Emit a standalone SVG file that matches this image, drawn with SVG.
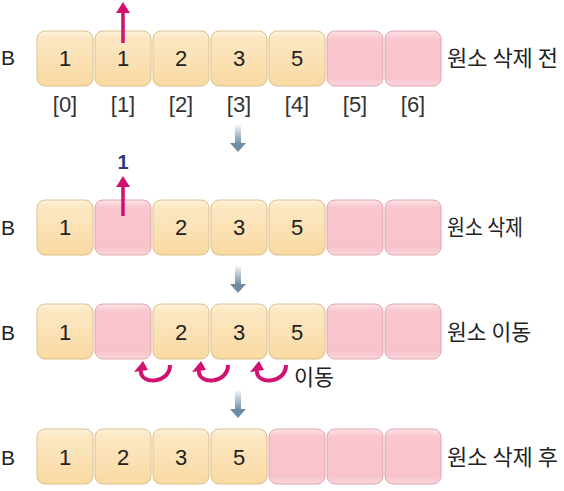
<svg xmlns="http://www.w3.org/2000/svg" width="564" height="491" viewBox="0 0 564 491">
<defs>
<linearGradient id="gy" x1="0" y1="0" x2="0" y2="1">
<stop offset="0" stop-color="#fef3dc"/>
<stop offset="0.12" stop-color="#fde8c4"/>
<stop offset="1" stop-color="#f8d9a2"/>
</linearGradient>
<linearGradient id="gp" x1="0" y1="0" x2="0" y2="1">
<stop offset="0" stop-color="#fde3e7"/>
<stop offset="0.14" stop-color="#f9c6ce"/>
<stop offset="0.85" stop-color="#f8c3cb"/>
<stop offset="1" stop-color="#fbd6dc"/>
</linearGradient>
<linearGradient id="ga" x1="0" y1="0" x2="0" y2="1">
<stop offset="0" stop-color="#f2f5f7"/>
<stop offset="1" stop-color="#6f8ca4"/>
</linearGradient>
<symbol id="down" overflow="visible">
<rect x="-3" y="0" width="6" height="19" fill="url(#ga)"/>
<polygon points="-8,18 8,18 0,27" fill="#6f8ca4"/>
</symbol>
</defs>
<style>
.y{fill:url(#gy);stroke:#dcc08c;stroke-width:1}
.p{fill:url(#gp);stroke:#e0a6b0;stroke-width:1}
.n{font-family:"Liberation Sans",Arial,sans-serif;font-size:22px;fill:#222;text-anchor:middle}
.b{font-family:"Liberation Sans",Arial,sans-serif;font-size:21px;fill:#222}
.k{font-family:"Noto Sans CJK KR","Noto Sans",sans-serif;font-size:22px;fill:#222}
.i{font-family:"Liberation Sans",Arial,sans-serif;font-size:22px;fill:#333;text-anchor:middle}
.arr{stroke:#d1106f;fill:none}
</style>

<g id="row1">
<text class="b" x="1" y="65">B</text>
<rect class="y" x="37" y="31" width="56" height="55" rx="8"/>
<rect class="y" x="95" y="31" width="56" height="55" rx="8"/>
<rect class="y" x="153" y="31" width="56" height="55" rx="8"/>
<rect class="y" x="211" y="31" width="56" height="55" rx="8"/>
<rect class="y" x="269" y="31" width="56" height="55" rx="8"/>
<rect class="p" x="327" y="31" width="56" height="55" rx="8"/>
<rect class="p" x="385" y="31" width="56" height="55" rx="8"/>
<text class="n" x="65" y="66">1</text>
<text class="n" x="123" y="66">1</text>
<text class="n" x="181" y="66">2</text>
<text class="n" x="239" y="66">3</text>
<text class="n" x="297" y="66">5</text>
<text class="i" x="65" y="112">[0]</text>
<text class="i" x="123" y="112">[1]</text>
<text class="i" x="181" y="112">[2]</text>
<text class="i" x="239" y="112">[3]</text>
<text class="i" x="297" y="112">[4]</text>
<text class="i" x="355" y="112">[5]</text>
<text class="i" x="413" y="112">[6]</text>
<text class="k" x="447" y="66" textLength="111" lengthAdjust="spacingAndGlyphs">원소 삭제 전</text>
</g>

<g id="row2">
<text class="b" x="1" y="235">B</text>
<rect class="y" x="37" y="200" width="56" height="55" rx="8"/>
<rect class="p" x="95" y="200" width="56" height="55" rx="8"/>
<rect class="y" x="153" y="200" width="56" height="55" rx="8"/>
<rect class="y" x="211" y="200" width="56" height="55" rx="8"/>
<rect class="y" x="269" y="200" width="56" height="55" rx="8"/>
<rect class="p" x="327" y="200" width="56" height="55" rx="8"/>
<rect class="p" x="385" y="200" width="56" height="55" rx="8"/>
<text class="n" x="65" y="235">1</text>
<text class="n" x="181" y="235">2</text>
<text class="n" x="239" y="235">3</text>
<text class="n" x="297" y="235">5</text>
<text x="123" y="169" font-family="Liberation Sans,Arial,sans-serif" font-size="20" font-weight="bold" fill="#233b86" text-anchor="middle">1</text>
<text class="k" x="447" y="235" textLength="76" lengthAdjust="spacingAndGlyphs">원소 삭제</text>
</g>

<g id="row3">
<text class="b" x="1" y="340">B</text>
<rect class="y" x="37" y="304" width="56" height="55" rx="8"/>
<rect class="p" x="95" y="304" width="56" height="55" rx="8"/>
<rect class="y" x="153" y="304" width="56" height="55" rx="8"/>
<rect class="y" x="211" y="304" width="56" height="55" rx="8"/>
<rect class="y" x="269" y="304" width="56" height="55" rx="8"/>
<rect class="p" x="327" y="304" width="56" height="55" rx="8"/>
<rect class="p" x="385" y="304" width="56" height="55" rx="8"/>
<text class="n" x="65" y="340">1</text>
<text class="n" x="181" y="340">2</text>
<text class="n" x="239" y="340">3</text>
<text class="n" x="297" y="340">5</text>
<text class="k" x="447" y="340" textLength="84" lengthAdjust="spacingAndGlyphs">원소 이동</text>
<text class="k" x="294" y="385" textLength="40" lengthAdjust="spacingAndGlyphs">이동</text>
</g>

<g id="row4">
<text class="b" x="1" y="465">B</text>
<rect class="y" x="37" y="429" width="56" height="55" rx="8"/>
<rect class="y" x="95" y="429" width="56" height="55" rx="8"/>
<rect class="y" x="153" y="429" width="56" height="55" rx="8"/>
<rect class="y" x="211" y="429" width="56" height="55" rx="8"/>
<rect class="p" x="269" y="429" width="56" height="55" rx="8"/>
<rect class="p" x="327" y="429" width="56" height="55" rx="8"/>
<rect class="p" x="385" y="429" width="56" height="55" rx="8"/>
<text class="n" x="65" y="465">1</text>
<text class="n" x="123" y="465">2</text>
<text class="n" x="181" y="465">3</text>
<text class="n" x="239" y="465">5</text>
<text class="k" x="447" y="465" textLength="111" lengthAdjust="spacingAndGlyphs">원소 삭제 후</text>
</g>

<g id="connectors">
<line class="arr" x1="123" y1="43" x2="123" y2="12" stroke-width="3.5"/>
<polygon points="116,13 130,13 123,2" fill="#d1106f"/>
<line class="arr" x1="123" y1="216" x2="123" y2="186" stroke-width="3.5"/>
<polygon points="116,187 130,187 123,176" fill="#d1106f"/>
<use href="#down" x="238" y="125"/>
<use href="#down" x="238" y="266"/>
<use href="#down" x="238" y="391"/>
<path class="arr" stroke-width="4" d="M170,365 C170,384 140,385 141,371"/>
<polygon points="134,372 148,370 143,361" fill="#d1106f"/>
<path class="arr" stroke-width="4" d="M228,365 C228,384 198,385 199,371"/>
<polygon points="192,372 206,370 201,361" fill="#d1106f"/>
<path class="arr" stroke-width="4" d="M286,365 C286,384 256,385 257,371"/>
<polygon points="250,372 264,370 259,361" fill="#d1106f"/>
</g>
</svg>
